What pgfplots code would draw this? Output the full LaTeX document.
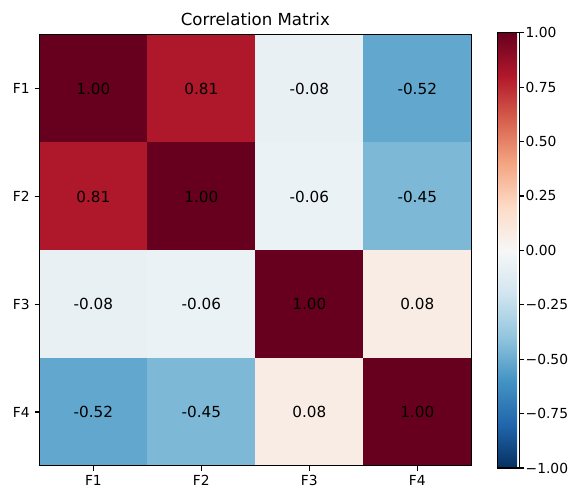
\documentclass[border=0pt]{standalone}
\usepackage{fontspec}
\setmainfont{DejaVu Sans}
\usepackage{pgfplots}
\pgfplotsset{compat=1.18}

% RdBu_r
\pgfplotsset{colormap={rdbur}{
  rgb255=(5,48,97) rgb255=(33,102,172) rgb255=(67,147,195) rgb255=(146,197,222)
  rgb255=(209,229,240) rgb255=(247,247,247) rgb255=(253,219,199) rgb255=(244,165,130)
  rgb255=(214,96,77) rgb255=(178,24,43) rgb255=(103,0,31)}}
\pgfplotsset{colorbar shift/.style={xshift=19pt, yshift=1.5pt}}

\begin{document}
\begin{tikzpicture}
\begin{axis}[
    scale only axis,
    width=312pt, height=311.5pt,
    axis on top,
    colormap name=rdbur,
    point meta min=-1, point meta max=1,
    enlargelimits=false,
    xmin=-0.5, xmax=3.5, ymin=-0.5, ymax=3.5,
    y dir=reverse,
    xtick={0,1,2,3}, xticklabels={F1,F2,F3,F4},
    ytick={0,1,2,3}, yticklabels={F1,F2,F3,F4},
    tick align=outside,
    major tick length=3.5pt,
    every tick/.style={black, line width=0.8pt},
    axis line style={line width=0.8pt},
    tick label style={font=\fontsize{10}{12}\selectfont},
    xtick pos=bottom, ytick pos=left,
    title={Correlation Matrix},
    title style={font=\fontsize{12}{14}\selectfont, yshift=-3pt},
    /pgf/number format/assume math mode=true,
    colorbar,
    colorbar style={
        at={(parent axis.north east)}, anchor=north west,
        width=15.8pt, height=314.5pt,
        ytick={-1,-0.75,-0.5,-0.25,0,0.25,0.5,0.75,1},
        yticklabels={−1.00,−0.75,−0.50,−0.25,0.00,0.25,0.50,0.75,1.00},
        ytick pos=right,
        tick align=outside,
        major tick length=3.5pt,
        every tick/.style={black, line width=0.8pt},
        axis line style={line width=0.8pt},
        yticklabel style={font=\fontsize{10}{12}\selectfont, xshift=-2.5pt},
    },
    nodes near coords={\pgfmathprintnumber[fixed,fixed zerofill,precision=2]{\pgfplotspointmeta}},
    nodes near coords align=center,
    every node near coord/.append style={font=\fontsize{11}{13}\selectfont, black, anchor=center},
]
\addplot[matrix plot*, mesh/cols=4, point meta=explicit] table[meta=c] {
x y c
0 0 1.00
1 0 0.81
2 0 -0.08
3 0 -0.52
0 1 0.81
1 1 1.00
2 1 -0.06
3 1 -0.45
0 2 -0.08
1 2 -0.06
2 2 1.00
3 2 0.08
0 3 -0.52
1 3 -0.45
2 3 0.08
3 3 1.00
};
\end{axis}
% padding like matplotlib's tight bbox
\path ([shift={(-6pt,-6pt)}]current bounding box.south west)
      ([shift={(6pt,6pt)}]current bounding box.north east);
\end{tikzpicture}
\end{document}
